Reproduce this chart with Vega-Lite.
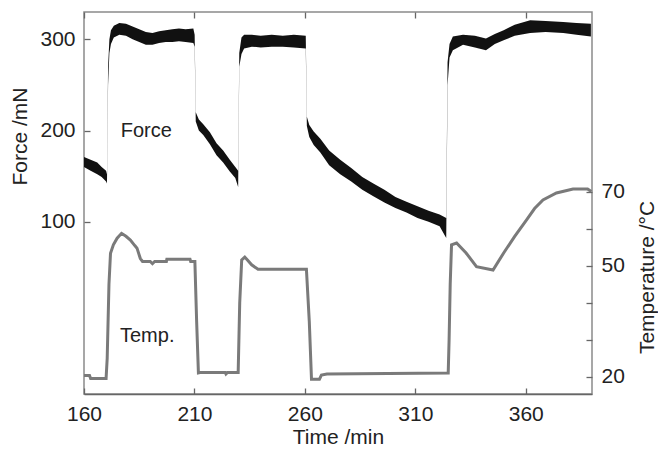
{
  "$schema": "https://vega.github.io/schema/vega-lite/v6.json",
  "width": 508,
  "height": 382,
  "autosize": {"type": "none"},
  "padding": {"left": 84, "top": 12, "right": 66, "bottom": 55},
  "config": {
    "view": {"stroke": "#8a8a8a", "strokeWidth": 1.5},
    "font": "Liberation Sans",
    "axis": {
      "labelFont": "Liberation Sans",
      "titleFont": "Liberation Sans",
      "labelFontSize": 21,
      "titleFontSize": 21,
      "labelColor": "#222",
      "titleColor": "#222",
      "titleFontWeight": "normal",
      "grid": false,
      "tickColor": "#666",
      "tickWidth": 1.3,
      "tickSize": -6,
      "domain": false,
      "labelFlush": false,
      "labelPadding": 15
    }
  },
  "datasets": {
    "force": [
      {"t": 160, "lo": 160, "hi": 171},
      {"t": 163, "lo": 156, "hi": 168},
      {"t": 166, "lo": 152, "hi": 165},
      {"t": 168, "lo": 149, "hi": 160},
      {"t": 170, "lo": 144, "hi": 156},
      {"t": 170.4, "lo": 142, "hi": 152},
      {"t": 170.9, "lo": 250, "hi": 270},
      {"t": 171.5, "lo": 285, "hi": 300},
      {"t": 172.2, "lo": 295, "hi": 310},
      {"t": 173.5, "lo": 302, "hi": 315},
      {"t": 176, "lo": 305, "hi": 318},
      {"t": 179, "lo": 304, "hi": 317},
      {"t": 182, "lo": 300, "hi": 314},
      {"t": 185, "lo": 297, "hi": 311},
      {"t": 188, "lo": 294, "hi": 308},
      {"t": 191, "lo": 294, "hi": 307},
      {"t": 194, "lo": 296, "hi": 309},
      {"t": 197, "lo": 297, "hi": 310},
      {"t": 200, "lo": 297, "hi": 311},
      {"t": 203, "lo": 298, "hi": 312},
      {"t": 206, "lo": 297, "hi": 311},
      {"t": 209.5, "lo": 296, "hi": 312},
      {"t": 210.1, "lo": 292, "hi": 305},
      {"t": 210.6, "lo": 210, "hi": 220},
      {"t": 212, "lo": 200, "hi": 212},
      {"t": 214, "lo": 195, "hi": 207},
      {"t": 217, "lo": 185, "hi": 198},
      {"t": 220, "lo": 173, "hi": 186},
      {"t": 223, "lo": 165, "hi": 178},
      {"t": 226, "lo": 155, "hi": 168},
      {"t": 228.5, "lo": 148, "hi": 160},
      {"t": 229.8, "lo": 138, "hi": 156},
      {"t": 230.3, "lo": 270, "hi": 285},
      {"t": 231.3, "lo": 284, "hi": 302},
      {"t": 232.5, "lo": 290, "hi": 305},
      {"t": 236, "lo": 292, "hi": 305},
      {"t": 240, "lo": 291, "hi": 304},
      {"t": 245, "lo": 292, "hi": 305},
      {"t": 250, "lo": 292, "hi": 304},
      {"t": 255, "lo": 291, "hi": 305},
      {"t": 260.4, "lo": 290, "hi": 304},
      {"t": 260.9, "lo": 205, "hi": 215},
      {"t": 262, "lo": 193, "hi": 206},
      {"t": 264, "lo": 184, "hi": 199},
      {"t": 267, "lo": 176, "hi": 191},
      {"t": 271, "lo": 162, "hi": 178},
      {"t": 276, "lo": 152, "hi": 168},
      {"t": 281, "lo": 144, "hi": 159},
      {"t": 286, "lo": 135, "hi": 149},
      {"t": 291, "lo": 128, "hi": 142},
      {"t": 296, "lo": 121, "hi": 135},
      {"t": 301, "lo": 115, "hi": 127},
      {"t": 306, "lo": 110, "hi": 122},
      {"t": 311, "lo": 104, "hi": 117},
      {"t": 316, "lo": 100, "hi": 112},
      {"t": 321, "lo": 95, "hi": 108},
      {"t": 324, "lo": 82, "hi": 104},
      {"t": 324.6, "lo": 250, "hi": 275},
      {"t": 325.5, "lo": 280, "hi": 295},
      {"t": 327, "lo": 288, "hi": 303},
      {"t": 331.6, "lo": 294, "hi": 305},
      {"t": 337, "lo": 291, "hi": 304},
      {"t": 342, "lo": 288, "hi": 301},
      {"t": 346, "lo": 295, "hi": 306},
      {"t": 350, "lo": 299, "hi": 310},
      {"t": 355, "lo": 304, "hi": 316},
      {"t": 362, "lo": 307, "hi": 321},
      {"t": 369, "lo": 308, "hi": 320},
      {"t": 377, "lo": 307, "hi": 319},
      {"t": 383, "lo": 305, "hi": 318},
      {"t": 389.5, "lo": 303, "hi": 317}
    ],
    "temp": [
      {"t": 160, "T": 20.4},
      {"t": 162.5, "T": 20.4},
      {"t": 163, "T": 19.6},
      {"t": 170, "T": 19.6},
      {"t": 170.5, "T": 25},
      {"t": 171.3, "T": 45},
      {"t": 172, "T": 53.4},
      {"t": 173.3, "T": 55.7},
      {"t": 175, "T": 57.5},
      {"t": 177, "T": 58.8},
      {"t": 179, "T": 58},
      {"t": 181, "T": 57},
      {"t": 183, "T": 55.5},
      {"t": 184, "T": 54.8},
      {"t": 185.5, "T": 52},
      {"t": 186.5, "T": 51.2},
      {"t": 190, "T": 51.2},
      {"t": 191, "T": 50.6},
      {"t": 192, "T": 51.2},
      {"t": 197.3, "T": 51.2},
      {"t": 197.5, "T": 51.8},
      {"t": 208, "T": 51.8},
      {"t": 208.3, "T": 51.2},
      {"t": 210.2, "T": 51.2},
      {"t": 211, "T": 35},
      {"t": 211.8, "T": 21.1},
      {"t": 212.5, "T": 21.2},
      {"t": 224, "T": 21.2},
      {"t": 224.3, "T": 20.8},
      {"t": 225, "T": 21.2},
      {"t": 229.8, "T": 21.2},
      {"t": 230.5, "T": 40},
      {"t": 231.4, "T": 51.6},
      {"t": 232.8, "T": 52.4},
      {"t": 234, "T": 51.6},
      {"t": 235.9, "T": 50.3},
      {"t": 238.8, "T": 49.1},
      {"t": 260.7, "T": 49.1},
      {"t": 262, "T": 35},
      {"t": 263, "T": 19.4},
      {"t": 266.6, "T": 19.4},
      {"t": 267.5, "T": 20.5},
      {"t": 270, "T": 20.8},
      {"t": 324.9, "T": 21.1},
      {"t": 325.3, "T": 30},
      {"t": 325.8, "T": 45},
      {"t": 326.4, "T": 55.7},
      {"t": 328.7, "T": 56.2},
      {"t": 333, "T": 53.5},
      {"t": 337.7, "T": 49.8},
      {"t": 345.2, "T": 48.9},
      {"t": 350, "T": 53.5},
      {"t": 355, "T": 58},
      {"t": 360.3, "T": 62.4},
      {"t": 364, "T": 65.5},
      {"t": 367.8, "T": 67.8},
      {"t": 373.9, "T": 69.7},
      {"t": 381.4, "T": 70.8},
      {"t": 388, "T": 70.8},
      {"t": 389.7, "T": 70.1}
    ],
    "forceLabel": [{"label": "Force", "t": 176.6, "v": 193}],
    "tempLabel": [{"label": "Temp.", "t": 176.3, "v": 29.5}]
  },
  "layer": [
    {
      "layer": [
        {
          "data": {"name": "force"},
          "mark": {"type": "area", "color": "#111", "opacity": 1},
          "encoding": {
            "x": {
              "field": "t", "type": "quantitative",
              "scale": {"domain": [160, 390], "nice": false, "zero": false},
              "axis": {
                "orient": "bottom", "values": [160, 210, 260, 310, 360],
                "title": "Time /min", "domain": true, "domainColor": "#666", "domainWidth": 1.5,
                "titlePadding": 2
              }
            },
            "y": {
              "field": "lo", "type": "quantitative",
              "scale": {"domain": [-89, 330], "nice": false, "zero": false},
              "axis": {
                "orient": "left", "values": [100, 200, 300], "title": "Force /mN",
                "titleX": -64, "titleY": 124,
                "titleAlign": "center", "titleBaseline": "middle", "titleAngle": 270
              }
            },
            "y2": {"field": "hi"}
          }
        },
        {
          "data": {"name": "forceLabel"},
          "mark": {"type": "text", "align": "left", "baseline": "alphabetic", "fontSize": 20, "font": "Liberation Sans", "color": "#222"},
          "encoding": {
            "x": {"field": "t", "type": "quantitative"},
            "y": {"field": "v", "type": "quantitative"},
            "text": {"field": "label"}
          }
        }
      ]
    },
    {
      "layer": [
        {
          "data": {"name": "temp"},
          "mark": {"type": "line", "color": "#7a7a7a", "strokeWidth": 3},
          "encoding": {
            "x": {
              "field": "t", "type": "quantitative",
              "axis": {"orient": "top", "values": [160, 210, 260, 310, 360], "labels": false, "title": null}
            },
            "y": {
              "field": "T", "type": "quantitative",
              "scale": {"domain": [15.4, 118.6], "nice": false, "zero": false},
              "axis": {
                "orient": "right", "values": [20, 30, 40, 50, 60, 70],
                "labelExpr": "datum.value == 20 || datum.value == 50 || datum.value == 70 ? datum.label : ''",
                "title": "Temperature /°C",
                "titleX": 55, "titleY": 265, "titleAlign": "center", "titleBaseline": "middle", "titleAngle": 270
              }
            }
          }
        },
        {
          "data": {"name": "tempLabel"},
          "mark": {"type": "text", "align": "left", "baseline": "alphabetic", "fontSize": 20, "font": "Liberation Sans", "color": "#222"},
          "encoding": {
            "x": {"field": "t", "type": "quantitative"},
            "y": {"field": "v", "type": "quantitative"},
            "text": {"field": "label"}
          }
        }
      ]
    }
  ],
  "resolve": {"scale": {"y": "independent"}, "axis": {"x": "independent"}}
}
